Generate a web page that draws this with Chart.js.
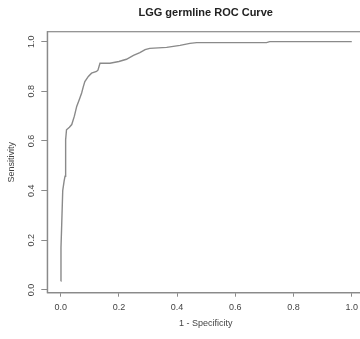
<!DOCTYPE html>
<html>
<head>
<meta charset="utf-8">
<script src="https://cdn.jsdelivr.net/npm/chart.js@4"></script>
<style>
	body { margin: 0; background: #fff; }
	#wrap { width: 360px; height: 339px; overflow: hidden; }
</style>
</head>
<body>
<div id="wrap"><canvas id="roc" width="370" height="339"></canvas></div>
<script>
const chartTitle = "LGG germline ROC Curve"
const xTitle = "1 - Specificity"
const yTitle = "Sensitivity"
const xTicks = [0, 0.2, 0.4, 0.6, 0.8, 1.0]
const yTicks = [0, 0.2, 0.4, 0.6, 0.8, 1.0]

// values
const fpr = [0, 0.001, 0.003, 0.007, 0.012, 0.015, 0.017, 0.02, 0.03, 0.038, 0.047, 0.055, 0.065, 0.072, 0.078, 0.083, 0.095, 0.106, 0.123, 0.128, 0.135, 0.169, 0.2, 0.226, 0.25, 0.272, 0.29, 0.306, 0.364, 0.41, 0.444, 0.467, 0.707, 0.718, 1.0]
const tpr = [0.036, 0.17, 0.244, 0.40, 0.44, 0.458, 0.605, 0.645, 0.655, 0.666, 0.70, 0.739, 0.77, 0.793, 0.82, 0.839, 0.86, 0.873, 0.88, 0.885, 0.913, 0.913, 0.92, 0.929, 0.945, 0.956, 0.968, 0.973, 0.977, 0.985, 0.993, 0.996, 0.996, 1.0, 1.0]

const lineGrey = "#8a8a8a"
const textGrey = "#444"
const font = "Liberation Sans"

const boxAndLabels = {
	id: "boxAndLabels",
	afterDraw: chart => {
		const {ctx, chartArea} = chart
		const y = chart.scales.y
		ctx.save()
		ctx.strokeStyle = lineGrey
		ctx.lineWidth = 1.2
		ctx.strokeRect(chartArea.left, chartArea.top, chartArea.right - chartArea.left, chartArea.bottom - chartArea.top)
		ctx.fillStyle = textGrey
		ctx.font = "9px '" + font + "'"
		ctx.textAlign = "center"
		ctx.textBaseline = "middle"
		yTicks.forEach(v => {
			ctx.save()
			ctx.translate(32, y.getPixelForValue(v))
			ctx.rotate(-Math.PI / 2)
			ctx.fillText(v.toFixed(1), 0, 0)
			ctx.restore()
		})
		ctx.restore()
	}
}

new Chart(document.getElementById("roc"), {
	type: "scatter",
	data: {
		datasets: [{
			data: fpr.map((x, i) => ({x, y: tpr[i]})),
			showLine: true,
			borderColor: lineGrey,
			borderWidth: 1.4,
			pointRadius: 0,
			tension: 0
		}]
	},
	options: {
		responsive: false,
		animation: false,
		layout: {padding: {left: 0, right: 6, top: 0, bottom: 0}},
		plugins: {
			legend: {display: false},
			tooltip: {enabled: false},
			title: {
				display: true,
				text: chartTitle,
				fullSize: false,
				color: "#222",
				font: {family: font, size: 11, weight: "bold"},
				padding: {top: 6, bottom: 12.5}
			}
		},
		scales: {
			x: {
				type: "linear",
				min: -0.046,
				max: 1.042,
				afterFit: s => { s.height = 46.3 },
				afterBuildTicks: s => { s.ticks = xTicks.map(value => ({value})) },
				grid: {display: true, drawOnChartArea: false, drawTicks: true, tickLength: 4, color: lineGrey},
				border: {display: true, color: lineGrey, width: 1.2},
				ticks: {
					color: textGrey,
					font: {family: font, size: 9},
					padding: 5.4,
					maxRotation: 0,
					autoSkip: false,
					callback: v => v.toFixed(1)
				},
				title: {
					display: true,
					text: xTitle,
					color: textGrey,
					font: {family: font, size: 9},
					padding: {top: 0, bottom: 10.3}
				}
			},
			y: {
				type: "linear",
				min: -0.011,
				max: 1.04,
				afterFit: s => { s.width = 47.3 },
				afterBuildTicks: s => { s.ticks = yTicks.map(value => ({value})) },
				grid: {display: true, drawOnChartArea: false, drawTicks: true, tickLength: 6, color: lineGrey},
				border: {display: true, color: lineGrey, width: 1.2},
				ticks: {display: false},
				title: {
					display: true,
					text: yTitle,
					color: textGrey,
					font: {family: font, size: 9},
					padding: {top: 6.3, bottom: 0}
				}
			}
		}
	},
	plugins: [boxAndLabels]
})
</script>
</body>
</html>
